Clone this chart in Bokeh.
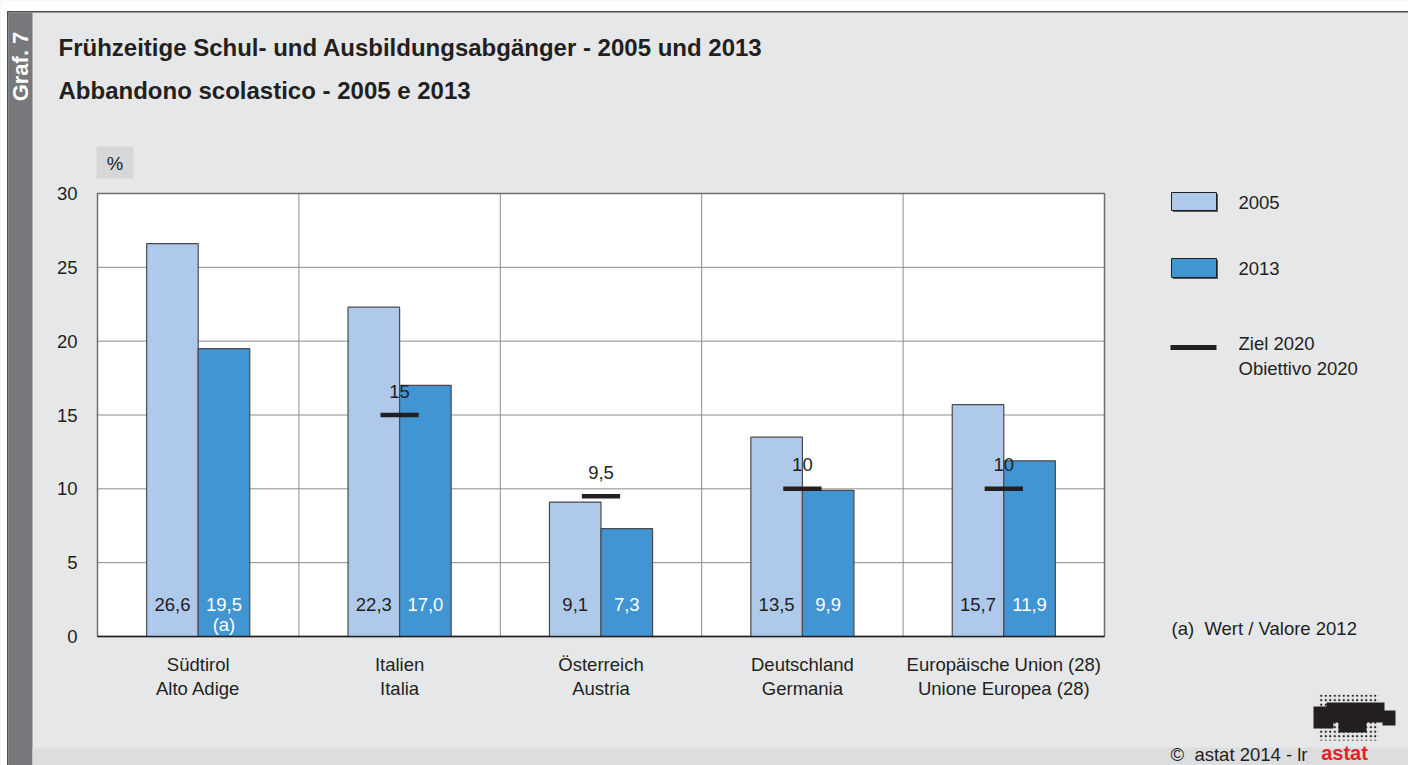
import math
from bokeh.plotting import figure
from bokeh.models import Range1d, ColumnDataSource, Label
from bokeh.transform import dodge
from bokeh.core.properties import value
from bokeh.embed import file_html
from bokeh.resources import INLINE

# ---------------- data ----------------
categories_de = ["Südtirol", "Italien", "Österreich", "Deutschland", "Europäische Union (28)"]
categories_it = ["Alto Adige", "Italia", "Austria", "Germania", "Unione Europea (28)"]
values_2005 = [26.6, 22.3, 9.1, 13.5, 15.7]
values_2013 = [19.5, 17.0, 7.3, 9.9, 11.9]
notes_2013 = ["(a)", "", "", "", ""]
targets_2020 = [None, 15, 9.5, 10, 10]
y_ticks = [0, 5, 10, 15, 20, 25, 30]
series_names = ["2005", "2013"]
target_name = ["Ziel 2020", "Obiettivo 2020"]
title_de = "Frühzeitige Schul- und Ausbildungsabgänger - 2005 und 2013"
title_it = "Abbandono scolastico - 2005 e 2013"
note_text = "(a)\u00a0 Wert / Valore 2012"
unit_text = "%"
graf_text = "Graf. 7"
copyright_text = "©\u00a0 astat 2014 - lr"
logo_text = "astat"

# ---------------- style / layout ----------------
FONT = "Liberation Sans"
FS = "18.5px"
TXT = "#231f20"
BG = "#e6e7e8"
C05 = "#aec9ea"
C13 = "#4195d3"
EDGE = "#4a4a4c"
GRID = "#8c8c8e"
W, H = 1408, 765
PL, PR, PT, PB = 97, 1104, 193, 636      # plot area in page pixels

n = len(categories_de)
y_max = y_ticks[-1]
G = (PR - PL) / n          # px per category
S = (PB - PT) / y_max      # px per percent
X0, X1 = -PL / G, (W - PL) / G
Y1 = y_max + PT / S
Y0 = Y1 - H / S


def dx(px):
    return X0 + px / G


def dy(py):
    return Y1 - py / S


def fmt(v):
    return ("%.1f" % v).replace(".", ",")


def fmt_t(v):
    return ("%g" % v).replace(".", ",")


p = figure(width=W, height=H, x_range=Range1d(X0, X1), y_range=Range1d(Y0, Y1),
           x_axis_location=None, y_axis_location=None, min_border=0,
           output_backend="svg", toolbar_location=None)
p.outline_line_color = None
p.background_fill_color = BG
p.border_fill_color = BG
p.grid.visible = False


def rect_px(l, t, r, b, color, **kw):
    p.quad(left=dx(l), right=dx(r), top=dy(t), bottom=dy(b), fill_color=color,
           line_color=kw.pop("line_color", None), **kw)


def lab(text, x, y, size=FS, bold=False, color=TXT, align="left", angle=0):
    p.add_layout(Label(text=text, x=dx(x), y=dy(y),
                       text_font=FONT, text_font_size=size,
                       text_font_style="bold" if bold else "normal",
                       text_color=color, text_align=align, text_baseline="middle",
                       angle=angle))


# ---------------- page frame ----------------
rect_px(0, 0, W, 10.5, "white")
rect_px(0, 0, 6.5, H, "white")
rect_px(6.5, 10.5, W, 12, "#4d4d4f")
rect_px(6.5, 10.5, 8, H, "#4d4d4f")
rect_px(8, 12, 32, H, "#77787b")
rect_px(32, 747, W, H, "#dcddde")

# ---------------- plot area ----------------
xc = [i + 0.5 for i in range(n)]
p.quad(left=0, right=n, bottom=0, top=y_max, fill_color="white", line_color=None)
p.segment(x0=0, x1=n, y0=y_ticks, y1=y_ticks, line_color=GRID, line_width=1)
p.segment(x0=list(range(1, n)), x1=list(range(1, n)), y0=0, y1=y_max,
          line_color=GRID, line_width=1)
p.quad(left=0, right=n, bottom=0, top=y_max, fill_color=None,
       line_color="#6d6e71", line_width=1.5)

src = ColumnDataSource(dict(
    xc=xc, v05=values_2005, v13=values_2013,
    l05=[fmt(v) for v in values_2005], l13=[fmt(v) for v in values_2013],
    note=notes_2013, de=categories_de, it=categories_it))

BW = 0.256
p.vbar(x=dodge("xc", -BW / 2), top="v05", width=BW, bottom=0, source=src,
       fill_color=C05, line_color=EDGE, line_width=1.2)
p.vbar(x=dodge("xc", BW / 2), top="v13", width=BW, bottom=0, source=src,
       fill_color=C13, line_color=EDGE, line_width=1.2)
p.segment(x0=0, x1=n, y0=0, y1=0, line_color=TXT, line_width=1.5)

txt_kw = dict(text_font=value(FONT), text_font_size=FS,
              text_align="center", text_baseline="middle")
p.text(x=dodge("xc", -BW / 2), y=0, text="l05", y_offset=-32,
       text_color=TXT, source=src, **txt_kw)
p.text(x=dodge("xc", BW / 2), y=0, text="l13", y_offset=-32,
       text_color="white", source=src, **txt_kw)
p.text(x=dodge("xc", BW / 2), y=0, text="note", y_offset=-12,
       text_color="white", source=src, **txt_kw)

# category labels (x axis)
p.text(x="xc", y=0, text="de", y_offset=28, text_color=TXT, source=src, **txt_kw)
p.text(x="xc", y=0, text="it", y_offset=52, text_color=TXT, source=src, **txt_kw)

# y tick labels
p.text(x=0, y=y_ticks, text=[str(t) for t in y_ticks], x_offset=-20,
       text_font=value(FONT), text_font_size=FS, text_align="right",
       text_baseline="middle", text_color=TXT)

# targets 2020
tidx = [i for i, t in enumerate(targets_2020) if t is not None]
tsrc = ColumnDataSource(dict(xc=[xc[i] for i in tidx],
                             t=[targets_2020[i] for i in tidx],
                             lab=[fmt_t(targets_2020[i]) for i in tidx]))
p.segment(x0=dodge("xc", -0.095), x1=dodge("xc", 0.095), y0="t", y1="t",
          line_width=4.5, line_color=TXT, source=tsrc)
p.text(x="xc", y="t", text="lab", y_offset=-24, text_color=TXT, source=tsrc, **txt_kw)

# ---------------- titles & side texts ----------------
lab(graf_text, 20, 66, size="22px", bold=True, color="white", align="center",
    angle=math.pi / 2)
lab(title_de, 58, 47, size="24px", bold=True)
lab(title_it, 58, 90, size="24px", bold=True)

rect_px(96, 146, 133, 178, "#d6d7d9")
lab(unit_text, 114.5, 163, align="center")

# legend
rect_px(1172.5, 193.5, 1217.5, 211.5, "#58595b")
rect_px(1171, 192, 1216, 210, C05, line_color=TXT, line_width=1)
rect_px(1172.5, 259.5, 1217.5, 278.5, "#58595b")
rect_px(1171, 258, 1216, 277, C13, line_color=TXT, line_width=1)
rect_px(1170, 344.5, 1216, 349.5, TXT)
lab(series_names[0], 1238, 202)
lab(series_names[1], 1238, 268)
lab(target_name[0], 1238, 343)
lab(target_name[1], 1238, 368)
lab(note_text, 1171, 628)

# copyright + logo
lab(copyright_text, 1170, 754)
rect_px(1318, 694, 1378, 740, BG, hatch_pattern="dot", hatch_color="#231f20",
        hatch_scale=4.5, hatch_weight=2)
rect_px(1313, 706, 1333, 728, "#231f20")
rect_px(1326, 702, 1384, 722, "#231f20")
rect_px(1338, 719, 1366, 732, "#231f20")
rect_px(1382, 710, 1395, 725, "#231f20")
lab(logo_text, 1344, 752, size="20px", bold=True, color="#e8202a", align="center")

open("out.html", "w").write(file_html(p, INLINE))
